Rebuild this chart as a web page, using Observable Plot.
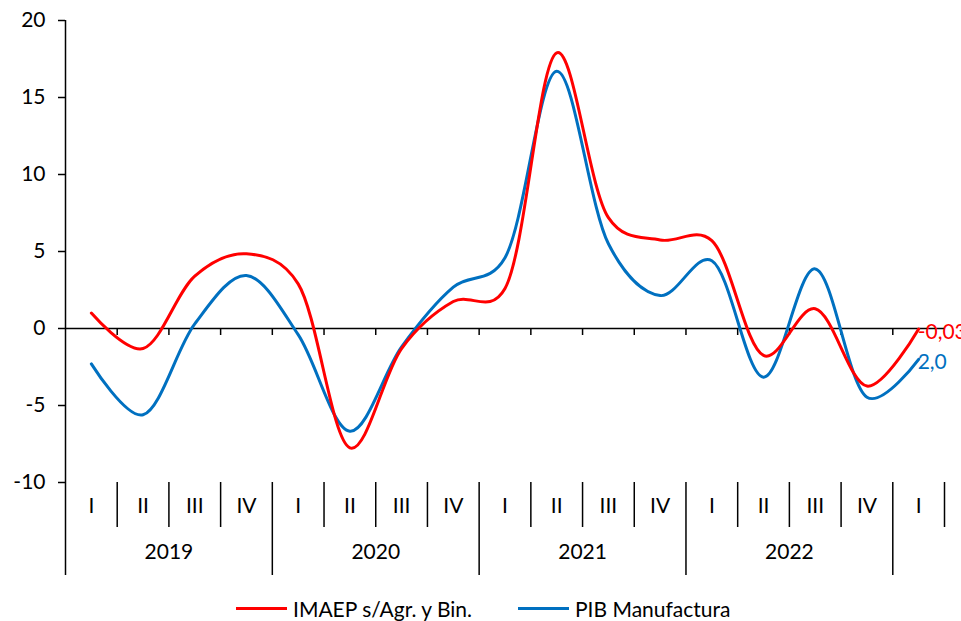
<!DOCTYPE html>
<html>
<head>
<meta charset="utf-8">
<script src="https://cdn.jsdelivr.net/npm/d3@7"></script>
<script src="https://cdn.jsdelivr.net/npm/@observablehq/plot@0.6"></script>
<style>
  html, body { margin: 0; padding: 0; background: #fff; overflow: hidden; }
  #chart { position: relative; width: 961px; height: 621px; font-family: Lato, sans-serif; }
  .leg { position: absolute; top: 596px; height: 24px; display: flex; align-items: center; font-size: 21px; color: #000; white-space: nowrap; }
  .sw { display: inline-block; width: 51px; height: 3px; margin-right: 6px; }
</style>
</head>
<body>
<div id="chart"></div>
<script>
const quarters = ["I","II","III","IV","I","II","III","IV","I","II","III","IV","I","II","III","IV","I"];
const years = ["2019","2020","2021","2022"];
const imaep = [1.0, -1.3, 3.4, 4.85, 2.9, -7.75, -1.3, 1.75, 2.6, 17.9, 7.2, 5.75, 5.7, -1.75, 1.28, -3.74, -0.03];
const pib = [-2.3, -5.6, 0.3, 3.44, -0.4, -6.67, -1.2, 2.68, 4.6, 16.7, 5.5, 2.14, 4.4, -3.16, 3.87, -4.46, -2.0];
const yTicks = [-10, -5, 0, 5, 10, 15, 20];
const endLabels = ["-0,03", "2,0"];
const seriesNames = ["IMAEP s/Agr. y Bin.", "PIB Manufactura"];
const colors = ["#FF0000", "#0070C0"];

const idx = quarters.map((q, i) => i);
const qBounds = quarters.map((q, i) => i + 0.5).filter((b, i) => quarters[i + 1] !== "I");
const yBounds = [-0.5].concat(quarters.map((q, i) => i + 0.5).filter((b, i) => quarters[i + 1] === "I"));
const zeroTicks = quarters.slice(0, -1).map((q, i) => i + 0.5);

const plot = Plot.plot({
  width: 961,
  height: 590,
  marginLeft: 65,
  marginRight: 17,
  marginTop: 20,
  marginBottom: 108,
  x: {domain: [-0.5, quarters.length - 0.5], axis: null},
  y: {domain: [-10, 20], axis: null},
  style: {fontFamily: "Lato, sans-serif", fontSize: "21px", color: "#000", background: "#fff", overflow: "visible"},
  marks: [
    Plot.axisY({ticks: yTicks, tickSize: 7, tickPadding: 13, anchor: "left", label: null, tickFormat: d => String(d), strokeWidth: 1.5, fontSize: 21}),
    Plot.ruleX([-0.5], {x: d => d, stroke: "#000", strokeWidth: 1.5}),
    Plot.ruleY([0], {x1: -0.5, x2: quarters.length - 0.5, stroke: "#000", strokeWidth: 1.5}),
    Plot.ruleX(zeroTicks, {x: d => d, y1: 0, y2: 0, insetBottom: -7, stroke: "#000", strokeWidth: 1.5}),
    Plot.ruleX(qBounds, {x: d => d, insetTop: 462, insetBottom: -45, stroke: "#000", strokeWidth: 1.5}),
    Plot.ruleX(yBounds, {x: d => d, insetTop: 462, insetBottom: -93, stroke: "#000", strokeWidth: 1.5}),
    Plot.text(quarters, {x: (d, i) => i, frameAnchor: "bottom", dy: 30, text: d => d, fill: "#000"}),
    Plot.text(years, {x: (d, i) => i * 4 + 1.5, frameAnchor: "bottom", dy: 76, text: d => d, fill: "#000"}),
    Plot.line(idx, {x: i => i, y: i => pib[i], curve: "catmull-rom", tension: 0.2, stroke: colors[1], strokeWidth: 3}),
    Plot.line(idx, {x: i => i, y: i => imaep[i], curve: "catmull-rom", tension: 0.2, stroke: colors[0], strokeWidth: 3}),
    Plot.text([0, 1], {
      x: () => quarters.length - 1,
      y: k => [imaep, pib][k].at(-1),
      text: k => endLabels[k],
      fill: k => colors[k],
      textAnchor: "start",
      dx: -1,
      dy: 3
    })
  ]
});
const chart = document.getElementById("chart");
chart.appendChild(plot);

const legPos = [236, 518];
seriesNames.forEach((name, k) => {
  const d = document.createElement("div");
  d.className = "leg";
  d.style.left = legPos[k] + "px";
  const sw = document.createElement("span");
  sw.className = "sw";
  sw.style.background = colors[k];
  d.appendChild(sw);
  d.appendChild(document.createTextNode(name));
  chart.appendChild(d);
});
</script>
</body>
</html>
